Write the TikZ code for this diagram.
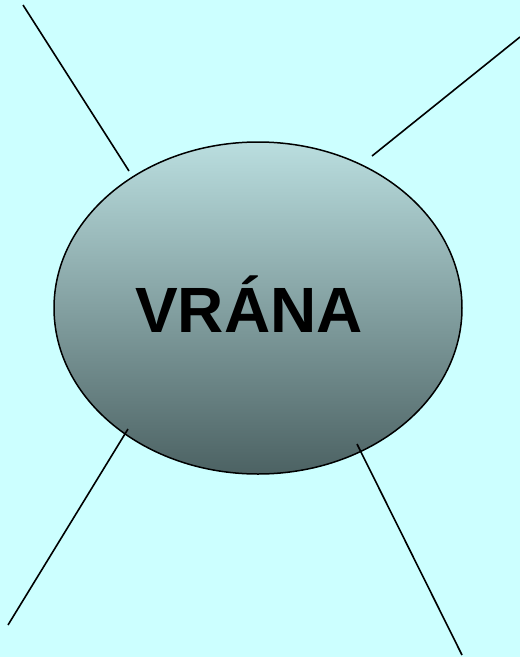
\documentclass[tikz,border=0pt]{standalone}
\usepackage{fontspec}
\newfontfamily\wordfont{Liberation Sans}
\usetikzlibrary{shapes.geometric}
\definecolor{sky}{RGB}{204,255,255}
\definecolor{shtop}{RGB}{186,222,223}
\definecolor{shbot}{RGB}{76,98,99}

\begin{document}
\begin{tikzpicture}[x=1pt,y=-1pt,
    spoke/.style={line width=1.6pt},
    bubble/.style={ellipse,draw,line width=1.5pt,inner sep=0pt,
      minimum width=408pt,minimum height=332pt,
      top color=shtop,bottom color=shbot}]
  \fill[sky] (0,0) rectangle (520,657);
  \useasboundingbox (0,0) rectangle (520,657);
  \node[bubble] (crow) at (258,308) {};
  \node[anchor=base,inner sep=0pt,font=\wordfont\bfseries\fontsize{64}{64}\selectfont]
    (word) at (249,332) {VRÁNA};
  % line ends
  \coordinate (nwin)  at (129,171);
  \coordinate (nwout) at (23,5);
  \coordinate (nein)  at (372,156);
  \coordinate (neout) at (520,37);
  \coordinate (swin)  at (128,429);
  \coordinate (swout) at (8,625);
  \coordinate (sein)  at (357,444);
  \coordinate (seout) at (462,655);
  \draw[spoke] (nwin) -- (nwout);
  \draw[spoke] (nein) -- (neout);
  \draw[spoke] (swin) -- (swout);
  \draw[spoke] (sein) -- (seout);
\end{tikzpicture}
\end{document}
